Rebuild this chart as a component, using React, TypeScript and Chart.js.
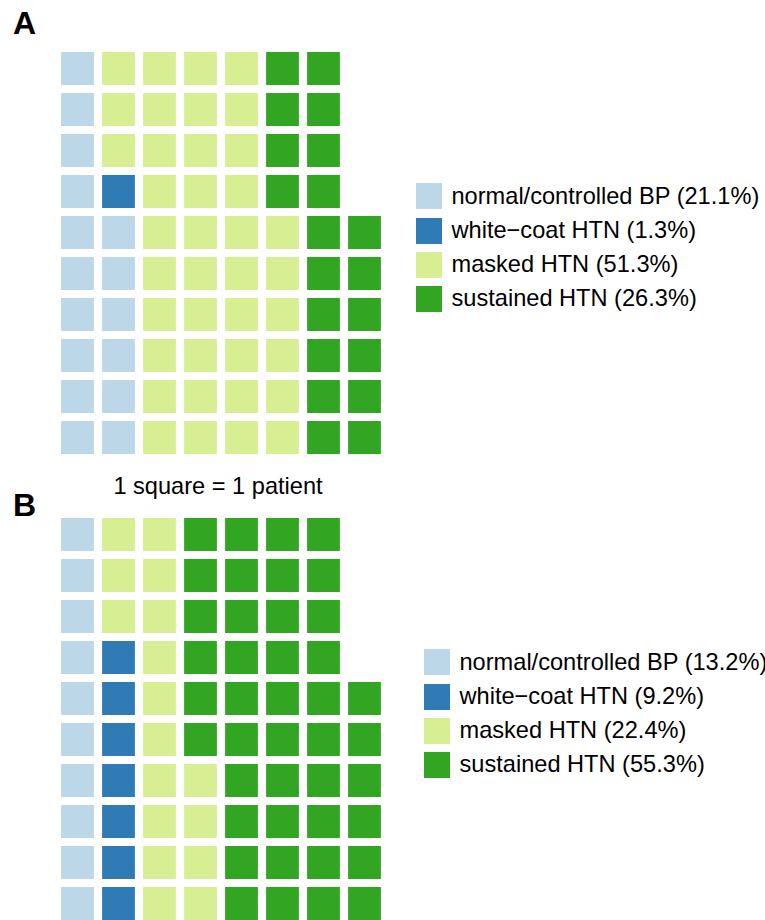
import React, { useEffect, useRef } from "react";
import { Chart, registerables } from "chart.js";

Chart.register(...registerables);

// ---- data ----
const categories = ["normal/controlled BP", "white\u2212coat HTN", "masked HTN", "sustained HTN"];
const categoryColors = ["#BBD7E8", "#2F7BB6", "#D8EE92", "#32A523"];
const countsA = [16, 1, 39, 20];
const percentA = ["21.1%", "1.3%", "51.3%", "26.3%"];
const countsB = [10, 7, 17, 42];
const percentB = ["13.2%", "9.2%", "22.4%", "55.3%"];
const columnLabels = ["1", "2", "3", "4", "5", "6", "7", "8"];
const rowsPerColumn = 10;
const captionText = "1 square = 1 patient";

const FONT = '"Liberation Sans", Arial, Helvetica, sans-serif';

type Cell = { x: string; y: [number, number] };

function buildCells(counts: number[]): Cell[][] {
  const out: Cell[][] = counts.map(() => []);
  let k = 0;
  counts.forEach((n, ci) => {
    for (let j = 0; j < n; j++) {
      const col = Math.floor(k / rowsPerColumn);
      const row = (k % rowsPerColumn) + 1;
      out[ci].push({ x: columnLabels[col], y: [row - 0.4, row + 0.4] });
      k++;
    }
  });
  return out;
}

function Waffle({ counts, top }: { counts: number[]; top: number }) {
  const ref = useRef<HTMLCanvasElement | null>(null);
  useEffect(() => {
    if (!ref.current) return;
    const cells = buildCells(counts);
    const chart = new Chart(ref.current, {
      type: "bar",
      data: {
        labels: columnLabels,
        datasets: categories.map((c, i) => ({
          label: c,
          data: cells[i] as any,
          backgroundColor: categoryColors[i],
          borderWidth: 0,
          borderSkipped: false,
          grouped: false,
          categoryPercentage: 0.8,
          barPercentage: 1,
        })) as any,
      },
      options: {
        animation: false,
        responsive: false,
        maintainAspectRatio: false,
        events: [],
        layout: { padding: 0 },
        plugins: { legend: { display: false }, tooltip: { enabled: false } },
        scales: {
          x: { type: "category", display: false, offset: true },
          y: { type: "linear", display: false, min: 0.5, max: rowsPerColumn + 0.5 },
        },
      },
    });
    return () => chart.destroy();
  }, [counts]);
  return (
    <canvas
      ref={ref}
      width={328}
      height={410}
      style={{ position: "absolute", left: 57, top, width: 328, height: 410 }}
    />
  );
}

function Legend({ left, top, percents }: { left: number; top: number; percents: string[] }) {
  return (
    <>
      {categories.map((c, i) => (
        <div
          key={c}
          style={{
            position: "absolute",
            left,
            top: top + i * 34.2,
            height: 26,
            display: "flex",
            alignItems: "center",
            whiteSpace: "nowrap",
          }}
        >
          <div style={{ width: 26, height: 26, background: categoryColors[i], flex: "none" }} />
          <span style={{ marginLeft: 9.5, fontSize: 23.6, color: "#000", lineHeight: 1 }}>
            {c} ({percents[i]})
          </span>
        </div>
      ))}
    </>
  );
}

export default function App() {
  return (
    <div
      style={{
        position: "absolute",
        left: 0,
        top: 0,
        width: 765,
        height: 920,
        overflow: "hidden",
        background: "#fff",
        fontFamily: FONT,
      }}
    >
      <div style={{ position: "absolute", left: 13, top: 7, fontSize: 32, fontWeight: "bold", lineHeight: 1 }}>A</div>
      <Waffle counts={countsA} top={48} />
      <Legend left={416} top={183.3} percents={percentA} />
      <div
        style={{
          position: "absolute",
          left: 18,
          top: 475,
          width: 400,
          textAlign: "center",
          fontSize: 23.6,
          lineHeight: 1,
        }}
      >
        {captionText}
      </div>
      <div style={{ position: "absolute", left: 13, top: 489, fontSize: 32, fontWeight: "bold", lineHeight: 1 }}>B</div>
      <Waffle counts={countsB} top={514} />
      <Legend left={424} top={649.3} percents={percentB} />
    </div>
  );
}
